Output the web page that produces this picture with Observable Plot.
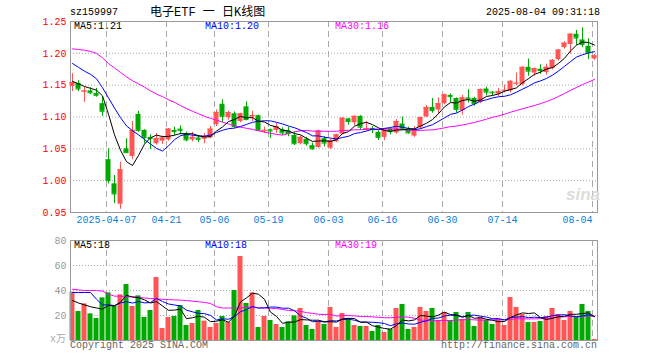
<!DOCTYPE html>
<html><head><meta charset="utf-8">
<script src="https://cdn.jsdelivr.net/npm/d3@7"></script>
<script src="https://cdn.jsdelivr.net/npm/@observablehq/plot@0.6"></script>
<style>
body{margin:0;background:#fff;}
#wrap{position:relative;width:660px;height:360px;overflow:hidden;font-family:"Liberation Mono",monospace;font-size:10px;background:#fff;}
#wrap svg{position:absolute;left:0;top:0;}
.t{position:absolute;white-space:nowrap;line-height:12px;font-size:10px;}
</style></head>
<body><div id="wrap"></div>
<script>
const dates = ["2025-03-27","2025-03-28","2025-03-31","2025-04-01","2025-04-02","2025-04-03","2025-04-07","2025-04-08","2025-04-09","2025-04-10","2025-04-11","2025-04-14","2025-04-15","2025-04-16","2025-04-17","2025-04-18","2025-04-21","2025-04-22","2025-04-23","2025-04-24","2025-04-25","2025-04-28","2025-04-29","2025-04-30","2025-05-06","2025-05-07","2025-05-08","2025-05-09","2025-05-12","2025-05-13","2025-05-14","2025-05-15","2025-05-16","2025-05-19","2025-05-20","2025-05-21","2025-05-22","2025-05-23","2025-05-26","2025-05-27","2025-05-28","2025-05-29","2025-05-30","2025-06-03","2025-06-04","2025-06-05","2025-06-06","2025-06-09","2025-06-10","2025-06-11","2025-06-12","2025-06-13","2025-06-16","2025-06-17","2025-06-18","2025-06-19","2025-06-20","2025-06-23","2025-06-24","2025-06-25","2025-06-26","2025-06-27","2025-06-30","2025-07-01","2025-07-02","2025-07-03","2025-07-04","2025-07-07","2025-07-08","2025-07-09","2025-07-10","2025-07-11","2025-07-14","2025-07-15","2025-07-16","2025-07-17","2025-07-18","2025-07-21","2025-07-22","2025-07-23","2025-07-24","2025-07-25","2025-07-28","2025-07-29","2025-07-30","2025-07-31","2025-08-01","2025-08-04"];
const opens = [1.148,1.153,1.139,1.141,1.137,1.121,1.033,0.995,0.963,1.050,
1.038,1.104,1.079,1.068,1.058,1.062,1.064,1.079,1.081,1.074,
1.064,1.067,1.065,1.067,1.088,1.120,1.099,1.105,1.093,1.116,
1.100,1.102,1.077,1.080,1.079,1.080,1.078,1.071,1.058,1.065,
1.055,1.052,1.066,1.051,1.061,1.073,1.097,1.091,1.101,1.080,
1.082,1.076,1.068,1.081,1.075,1.089,1.081,1.070,1.083,1.100,
1.115,1.111,1.121,1.134,1.129,1.110,1.130,1.129,1.123,1.144,
1.139,1.136,1.141,1.141,1.152,1.151,1.178,1.169,1.175,1.170,
1.176,1.190,1.209,1.214,1.230,1.221,1.211,1.191];
const highs = [1.168,1.157,1.147,1.146,1.145,1.132,1.050,1.008,1.029,1.066,
1.093,1.109,1.080,1.072,1.074,1.070,1.082,1.084,1.086,1.076,
1.076,1.071,1.074,1.085,1.111,1.127,1.109,1.108,1.106,1.124,
1.109,1.103,1.084,1.081,1.090,1.083,1.084,1.076,1.070,1.068,
1.059,1.079,1.069,1.065,1.073,1.099,1.098,1.102,1.102,1.093,
1.085,1.078,1.082,1.083,1.096,1.100,1.084,1.085,1.100,1.118,
1.129,1.130,1.136,1.136,1.130,1.134,1.143,1.131,1.144,1.147,
1.140,1.145,1.150,1.157,1.169,1.179,1.191,1.177,1.182,1.183,
1.190,1.206,1.218,1.231,1.236,1.240,1.223,1.198];
const lows = [1.140,1.140,1.123,1.135,1.131,1.101,0.995,0.964,0.955,1.043,
1.033,1.076,1.058,1.049,1.056,1.057,1.062,1.071,1.072,1.061,
1.061,1.060,1.058,1.066,1.085,1.091,1.095,1.082,1.091,1.094,
1.093,1.078,1.074,1.066,1.074,1.071,1.069,1.055,1.056,1.054,
1.048,1.051,1.053,1.049,1.060,1.072,1.087,1.086,1.079,1.078,
1.074,1.063,1.063,1.072,1.073,1.079,1.073,1.068,1.081,1.099,
1.106,1.104,1.119,1.122,1.106,1.103,1.122,1.117,1.121,1.133,
1.133,1.132,1.138,1.138,1.149,1.149,1.164,1.164,1.167,1.166,
1.174,1.188,1.207,1.199,1.212,1.209,1.190,1.189];
const closes = [1.154,1.144,1.141,1.138,1.134,1.109,1.000,0.979,1.017,1.044,
1.079,1.079,1.068,1.066,1.066,1.067,1.081,1.077,1.079,1.064,
1.068,1.065,1.068,1.081,1.107,1.101,1.107,1.085,1.105,1.096,
1.102,1.079,1.079,1.078,1.085,1.075,1.074,1.058,1.068,1.058,
1.050,1.078,1.059,1.063,1.072,1.098,1.093,1.101,1.084,1.082,
1.080,1.068,1.080,1.077,1.093,1.081,1.075,1.081,1.099,1.115,
1.110,1.121,1.135,1.132,1.112,1.130,1.128,1.121,1.143,1.139,
1.138,1.140,1.142,1.156,1.153,1.178,1.172,1.176,1.173,1.178,
1.189,1.205,1.216,1.230,1.224,1.214,1.201,1.196];
const volumes = [38.7,23.2,29.3,21.3,17.6,34.1,38.1,27.2,36.5,44.8,
27.2,35.7,18.4,24,50.4,9.6,18.4,19.2,28,12,
13.6,24,15.5,10.4,13.6,19.2,14.4,40,67.2,29.6,
38.1,10.4,19.2,16,12.8,10.4,14.9,19.7,25.6,12,
8.8,15.2,12.8,26.4,10.4,21.6,17.6,12,11.2,11.2,
7.2,12,6.4,8.8,25.6,28.8,8.8,10.4,26.4,23.2,
25.6,16,22.4,16,22.4,16.8,22.4,11.2,18.4,16,
12.8,16.8,12,34.4,26.4,20.8,14.4,14.4,15.2,19.2,
25.6,20.8,16,23.2,19.2,28.8,23.2,0.8];
// moving-average values before enough in-window history exists
const ma5Lead = [1.156,1.152,1.148,1.145];
const ma10Lead = [1.184,1.178,1.172,1.167,1.160,1.146,1.130,1.114,1.099];
const ma30Lead = [1.207,1.206,1.205,1.203,1.200,1.193,1.184,1.177,1.170,1.163,1.157,1.152,1.147,1.141,1.136,1.132,1.127,1.123,1.118,1.113,1.109,1.105,1.101,1.098,1.095,1.092,1.089,1.086,1.084];
const volMa5Lead = [32,30,28.5,27];
const volMa10Lead = [38.4,38.4,38.4,38.4,33,28.5,28.5,28,30];
const volMa30Lead = [41,40.5,40,40,40,39.5,37,35.5,35.5,35,35,34.5,34,33.6,33.3,33,32.7,32.5,32.3,32,31.5,31,30.5,29.6,27,26,26,26,26];
const tickDates = ["2025-04-07","2025-04-21","2025-05-06","2025-05-19","2025-06-03","2025-06-16","2025-06-30","2025-07-14","2025-08-04"];
const tickLabels = ["2025-04-07","04-21","05-06","05-19","06-03","06-16","06-30","07-14","08-04"];
const priceTicks = [1.25,1.20,1.15,1.10,1.05,1.00,0.95];
const priceGrid = [1.20,1.15,1.10,1.05,1.00];
const volTicks = [80,60,40,20];
const volGrid = [60,40,20];

const RED = "#ff5555", GREEN = "#00a800";
function movingAvg(vals, k, lead) {
  return vals.map((v, i) => i < k - 1 ? lead[i] : d3.mean(vals.slice(i - k + 1, i + 1)));
}
const ma5 = movingAvg(closes, 5, ma5Lead), ma10 = movingAvg(closes, 10, ma10Lead), ma30 = movingAvg(closes, 30, ma30Lead);
const vma5 = movingAvg(volumes, 5, volMa5Lead), vma10 = movingAvg(volumes, 10, volMa10Lead), vma30 = movingAvg(volumes, 30, volMa30Lead);
const rows = dates.map((d, i) => ({i, date: d, o: opens[i], h: highs[i], l: lows[i], c: closes[i], v: volumes[i],
  up: closes[i] >= opens[i], ma5: ma5[i], ma10: ma10[i], ma30: ma30[i], vma5: vma5[i], vma10: vma10[i], vma30: vma30[i]}));
const ticks = tickDates.map((d, k) => ({i: dates.indexOf(d), label: tickLabels[k]}));

const W = 5/12;
const xOpt = {domain: [-1/3, 87.5], axis: null};
const styleOpt = {background: "transparent", fontFamily: "Liberation Mono, monospace", fontSize: "10px", overflow: "visible"};
const up = d => d.up, down = d => !d.up;

const main = Plot.plot({
  width: 660, height: 360, marginTop: 21, marginBottom: 148, marginLeft: 70, marginRight: 63,
  x: xOpt, y: {domain: [0.95, 1.25]}, style: styleOpt,
  marks: [
    Plot.ruleY(priceGrid, {stroke: "#aaa", strokeDasharray: "1,2"}),
    Plot.ruleX(ticks, {x: d => d.i - 1/3, stroke: "#aaa", strokeDasharray: "6,4"}),
    Plot.frame({stroke: "#999"}),
    Plot.axisY(priceTicks, {tickSize: 0, tickPadding: 4, fill: "#f00", tickFormat: d => d.toFixed(2), label: null}),
    Plot.text(ticks.slice(0, -1), {x: d => d.i - 1/3, text: "label", frameAnchor: "bottom", dy: 10, fill: "#0a7fd6"}),
    Plot.text(ticks.slice(-1), {x: d => d.i - 1/3, text: "label", frameAnchor: "bottom", dy: 10, textAnchor: "end", fill: "#0a7fd6"}),
    Plot.ruleX(rows, {filter: up, x: "i", y1: "l", y2: "h", stroke: RED}),
    Plot.ruleX(rows, {filter: down, x: "i", y1: "l", y2: "h", stroke: GREEN}),
    Plot.rect(rows, {filter: up, x1: d => d.i - W, x2: d => d.i + W, y1: "o", y2: "c", fill: RED}),
    Plot.rect(rows, {filter: down, x1: d => d.i - W, x2: d => d.i + W, y1: "o", y2: "c", fill: GREEN}),
    Plot.ruleY(rows, {filter: up, x1: d => d.i - W, x2: d => d.i + W, y: "c", stroke: RED}),
    Plot.ruleY(rows, {filter: down, x1: d => d.i - W, x2: d => d.i + W, y: "c", stroke: GREEN}),
    Plot.line(rows, {x: "i", y: "ma30", stroke: "#f0f", strokeWidth: 1}),
    Plot.line(rows, {x: "i", y: "ma10", stroke: "#00f", strokeWidth: 1}),
    Plot.line(rows, {x: "i", y: "ma5", stroke: "#000", strokeWidth: 1})
  ]
});

const vol = Plot.plot({
  width: 660, height: 360, marginTop: 240, marginBottom: 20, marginLeft: 70, marginRight: 63,
  x: xOpt, y: {domain: [0, 80]}, style: styleOpt,
  marks: [
    Plot.ruleY(volGrid, {stroke: "#aaa", strokeDasharray: "1,2"}),
    Plot.ruleX(ticks, {x: d => d.i - 1/3, stroke: "#aaa", strokeDasharray: "6,4"}),
    Plot.axisY(volTicks, {tickSize: 0, tickPadding: 4, fill: "#999", label: null}),
    Plot.rect(rows, {filter: up, x1: d => d.i - W, x2: d => d.i + W, y1: 0, y2: "v", fill: RED}),
    Plot.rect(rows, {filter: down, x1: d => d.i - W, x2: d => d.i + W, y1: 0, y2: "v", fill: GREEN}),
    Plot.line(rows, {x: "i", y: "vma30", stroke: "#f0f", strokeWidth: 1}),
    Plot.line(rows, {x: "i", y: "vma10", stroke: "#00f", strokeWidth: 1}),
    Plot.line(rows, {x: "i", y: "vma5", stroke: "#000", strokeWidth: 1}),
    Plot.frame({stroke: "#999"})
  ]
});

const wrap = document.getElementById("wrap");
wrap.append(main, vol);
function txt(s, css) { const d = document.createElement("div"); d.className = "t"; d.textContent = s; Object.assign(d.style, css); wrap.append(d); }
txt("sz159997", {left: "70px", top: "7px", color: "#000"});
txt("电子ETF 一 日K线图", {left: "150px", top: "6px", color: "#000", fontSize: "12px", lineHeight: "14px", fontFamily: "'Liberation Mono','Noto Sans CJK SC',monospace"});
txt("2025-08-04 09:31:18", {right: "60px", top: "7px", color: "#000"});
const last = rows[rows.length - 1];
txt("MA5:" + last.ma5.toFixed(2), {left: "74px", top: "21px", color: "#000"});
txt("MA10:" + last.ma10.toFixed(2), {left: "205px", top: "21px", color: "#00f"});
txt("MA30:" + last.ma30.toFixed(2), {left: "335px", top: "21px", color: "#f0f"});
txt("MA5:18", {left: "74px", top: "240px", color: "#000"});
txt("MA10:18", {left: "205px", top: "240px", color: "#00f"});
txt("MA30:19", {left: "335px", top: "240px", color: "#f0f"});
txt("x万", {right: "594px", top: "334px", color: "#aaa", fontFamily: "'Liberation Mono','Noto Sans CJK SC',monospace"});
txt("Copyright 2025 SINA.COM", {left: "70px", top: "340px", color: "#666"});
txt("http://finance.sina.com.cn", {right: "63px", top: "340px", color: "#666"});
txt("sina", {left: "566px", top: "186px", color: "#dcdcdc", fontSize: "17px", lineHeight: "18px", fontStyle: "italic", fontWeight: "bold", fontFamily: "'Liberation Sans',sans-serif"});
</script>
</body></html>
